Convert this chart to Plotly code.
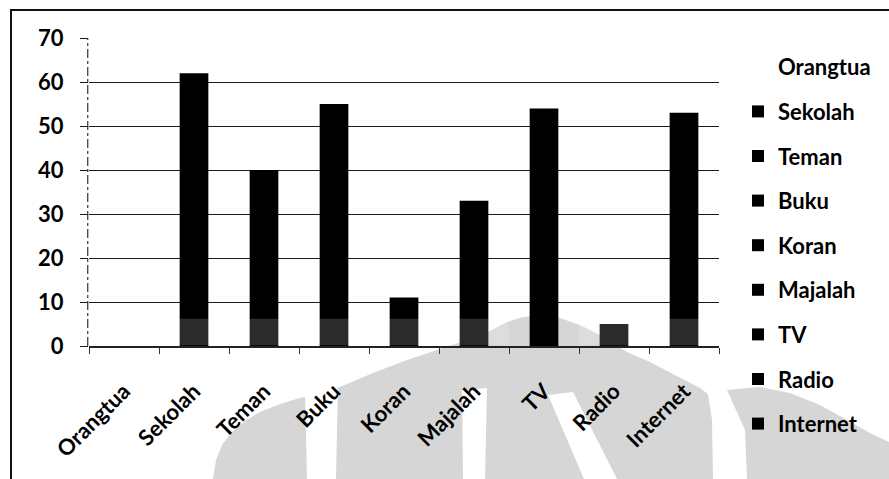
import plotly.graph_objects as go

# Data
categories = ["Orangtua", "Sekolah", "Teman", "Buku", "Koran", "Majalah", "TV", "Radio", "Internet"]
values = [0, 62, 40, 55, 11, 33, 54, 5, 53]
bar_colors = ["rgba(0,0,0,0)", "#000000", "#000000", "#000000", "#000000",
              "#000000", "#000000", "#000000", "#000000"]
y_ticks = [0, 10, 20, 30, 40, 50, 60, 70]

FONT = "Lato"

# Plot-area geometry in pixels (used to place decorative paper shapes)
FIG_W, FIG_H = 889, 479
L, R, T, B = 89, 719, 38, 346
W, H = R - L, B - T


def px(x):
    return (x - L) / W


def py(y):
    return (B - y) / H


def path(points):
    pts = [f"{px(x):.4f},{py(y):.4f}" for x, y in points]
    return "M" + " L".join(pts) + " Z"


fig = go.Figure()

for cat, val, col in zip(categories, values, bar_colors):
    fig.add_trace(go.Bar(
        x=[cat], y=[val], name=cat,
        marker=dict(color=col, line=dict(width=0)),
        width=0.41, legendgroup=cat,
    ))

shapes = []

# Light grey emblem behind the chart
grey = "#d6d6d6"
arch = [(213, 479), (216, 460), (222, 445), (232, 432), (245, 421), (260, 412),
        (280, 404), (300, 398), (320, 393), (340, 387), (373, 373), (407, 360),
        (440, 349), (470, 339), (490, 331), (507, 322), (523, 317), (545, 315),
        (560, 318), (580, 325), (600, 335), (627, 352), (650, 362), (673, 374),
        (700, 388), (708, 394), (712, 420), (713, 479)]
right_lobe = [(747, 479), (745, 430), (727, 390), (760, 387), (790, 393),
              (820, 405), (847, 420), (870, 433), (895, 445), (895, 479)]
for pts in (arch, right_lobe):
    shapes.append(dict(type="path", xref="paper", yref="paper", path=path(pts),
                       fillcolor=grey, line=dict(width=0), layer="below"))
gaps = [
    [(305, 393), (338, 383), (336, 479), (307, 479)],
    [(462, 390), (487, 388), (485, 479), (463, 479)],
    [(548, 395), (573, 392), (617, 479), (584, 479)],
]
for pts in gaps:
    shapes.append(dict(type="path", xref="paper", yref="paper", path=path(pts),
                       fillcolor="white", line=dict(width=0), layer="below"))

# Faded band across the foot of the bars
for x0, x1 in ((-0.5, 5.5), (6.5, 8.5)):
    shapes.append(dict(type="rect", xref="x", yref="y", x0=x0, x1=x1, y0=0.15, y1=6.2,
                       fillcolor="rgba(255,255,255,0.17)", line=dict(width=0), layer="above"))

# Broken vertical axis line
shapes.append(dict(type="line", xref="paper", yref="y", x0=-0.002, x1=-0.002, y0=0, y1=70,
                   line=dict(color="#333333", width=1.2, dash="dashdot"), layer="above"))

# Outer frame
shapes.append(dict(type="rect", xref="paper", yref="paper",
                   x0=px(11), x1=px(905), y0=py(10), y1=py(495),
                   line=dict(color="#111111", width=2), fillcolor="rgba(0,0,0,0)"))

fig.update_layout(
    width=FIG_W, height=FIG_H,
    margin=dict(l=L, r=FIG_W - R, t=T, b=FIG_H - B, autoexpand=False),
    paper_bgcolor="white", plot_bgcolor="white",
    barmode="overlay",
    font=dict(family=FONT, color="#000000", size=22, weight="bold"),
    showlegend=True,
    legend=dict(
        x=px(738), xanchor="left", y=py(46), yanchor="top",
        font=dict(family=FONT, size=22, color="#000000", weight="bold"),
        traceorder="grouped", tracegroupgap=13, maxheight=470,
        bgcolor="rgba(0,0,0,0)", itemclick=False,
    ),
    shapes=shapes,
)

fig.update_xaxes(
    categoryorder="array", categoryarray=categories,
    tickangle=-45, tickfont=dict(family=FONT, size=22, color="#000000", weight="bold"),
    showline=True, linecolor="#222222", linewidth=1.5,
    ticks="outside", tickson="boundaries", ticklen=6, tickcolor="#333333",
    ticklabelstandoff=22,
    showgrid=False, range=[-0.5, 8.5],
)
fig.update_yaxes(
    range=[0, 70], tickvals=y_ticks,
    tickfont=dict(family=FONT, size=22, color="#000000", weight="bold"),
    showgrid=True, gridcolor="#1a1a1a", gridwidth=1,
    ticks="outside", ticklen=8, tickcolor="#1a1a1a",
    ticklabelstandoff=12, zeroline=False, showline=False,
)

fig.write_html("out.html")
